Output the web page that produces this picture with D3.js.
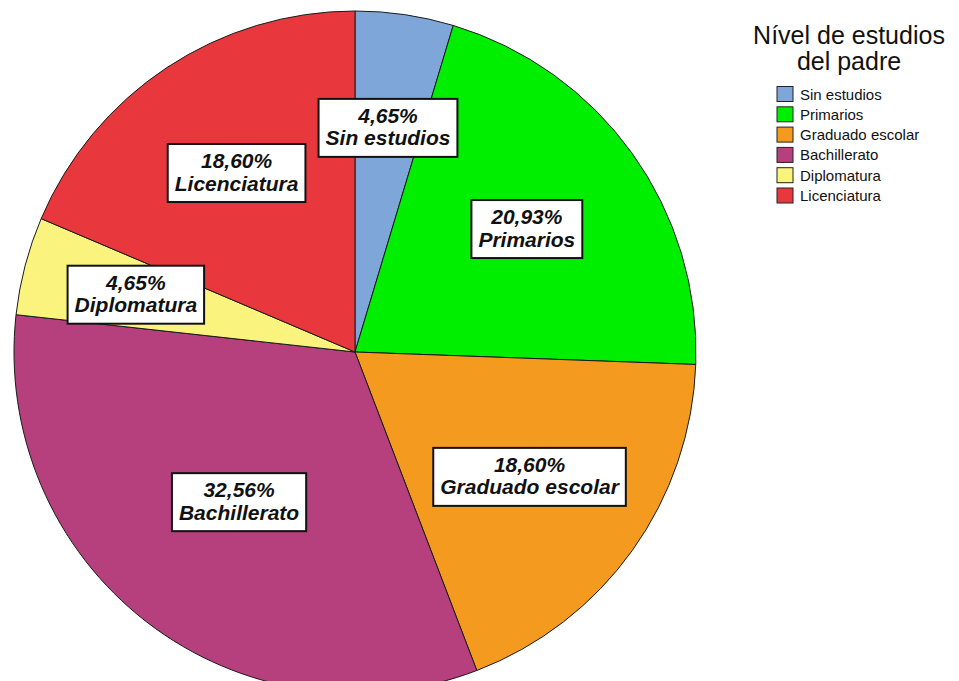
<!DOCTYPE html>
<html>
<head>
<meta charset="utf-8">
<script src="https://d3js.org/d3.v7.min.js"></script>
<style>
    body { margin: 0; background: #fff; }
    svg { font-family: Arial, "Liberation Sans", sans-serif; }
    .slice { stroke: #1a1a1a; stroke-width: 1; }
    .lbl-box { fill: #fff; stroke: #111; stroke-width: 2; }
    .lbl-text { font-size: 21px; font-weight: bold; font-style: italic; fill: #111; text-anchor: middle; }
    .leg-title { font-size: 25px; fill: #111; text-anchor: middle; }
    .leg-text { font-size: 15px; fill: #111; }
    .leg-swatch { stroke: #222; stroke-width: 1; }
</style>
</head>
<body>
<div id="chart"></div>
<script>
    // categories and counts (percentages shown in labels)
    var categories = ["Sin estudios", "Primarios", "Graduado escolar", "Bachillerato", "Diplomatura", "Licenciatura"];
    var counts = [2, 9, 8, 14, 2, 8];
    var colors = ["#7ea6d8", "#00ee00", "#f49b1f", "#b5407d", "#faf47f", "#e8383e"];
    var legendTitle = ["Nível de estudios", "del padre"];

    var width = 959, height = 681;
    var cx = 355, cy = 352, radius = 341;

    var svg = d3.select("#chart").append("svg")
        .attr("width", width)
        .attr("height", height);

    var total = d3.sum(counts);
    var data = categories.map(function (c, i) {
        return { name: c, value: counts[i], color: colors[i] };
    });

    var pie = d3.pie().sort(null).value(function (d) { return d.value; });
    var arc = d3.arc().innerRadius(0).outerRadius(radius);
    var arcs = pie(data);

    var g = svg.append("g").attr("transform", "translate(" + cx + "," + cy + ")");

    g.selectAll("path.slice")
        .data(arcs)
        .enter()
        .append("path")
        .attr("class", "slice")
        .attr("fill", function (d) { return d.data.color; })
        .attr("d", arc);

    var fmt = function (v) { return d3.format(".2f")(v * 100 / total).replace(".", ",") + "%"; };

    // labels at the centroid of each sector
    function centroid(d) {
        var half = (d.endAngle - d.startAngle) / 2;
        var mid = (d.startAngle + d.endAngle) / 2;
        var dist = (2 / 3) * radius * Math.sin(half) / half;
        return [dist * Math.sin(mid), -dist * Math.cos(mid)];
    }

    var labels = g.selectAll("g.lbl")
        .data(arcs)
        .enter()
        .append("g")
        .attr("class", "lbl")
        .attr("transform", function (d) { return "translate(" + centroid(d) + ")"; });

    labels.each(function (d) {
        var lg = d3.select(this);
        var rect = lg.append("rect").attr("class", "lbl-box");
        var t1 = lg.append("text").attr("class", "lbl-text").attr("y", -5).text(fmt(d.data.value));
        var t2 = lg.append("text").attr("class", "lbl-text").attr("y", 17.5).text(d.data.name);
        var w = Math.max(t1.node().getComputedTextLength(), t2.node().getComputedTextLength()) + 14;
        rect.attr("x", -w / 2).attr("y", -29).attr("width", w).attr("height", 58);
    });

    // legend
    var legend = svg.append("g").attr("transform", "translate(849,0)");
    legend.selectAll("text.leg-title")
        .data(legendTitle)
        .enter()
        .append("text")
        .attr("class", "leg-title")
        .attr("y", function (d, i) { return 44 + i * 26; })
        .text(function (d) { return d; });

    var rows = svg.append("g").attr("transform", "translate(777,94)")
        .selectAll("g")
        .data(data)
        .enter()
        .append("g")
        .attr("transform", function (d, i) { return "translate(0," + (i * 20.3) + ")"; });

    rows.append("rect")
        .attr("class", "leg-swatch")
        .attr("x", 0).attr("y", -7.5)
        .attr("width", 16).attr("height", 15)
        .attr("fill", function (d) { return d.color; });

    rows.append("text")
        .attr("class", "leg-text")
        .attr("x", 23).attr("y", 5.5)
        .text(function (d) { return d.name; });
</script>
</body>
</html>
